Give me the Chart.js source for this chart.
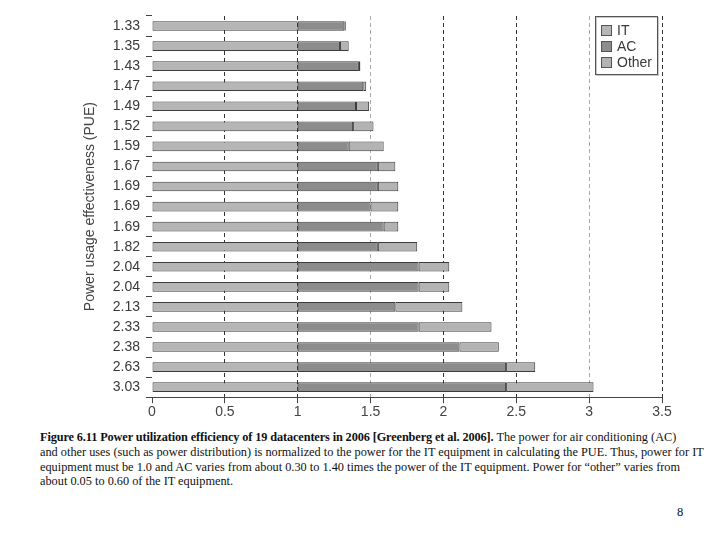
<!DOCTYPE html>
<html>
<head>
<meta charset="utf-8">
<script src="https://cdn.jsdelivr.net/npm/chart.js@4.4.0/dist/chart.umd.min.js"></script>
<style>
    body { margin: 0; background: #fff; width: 720px; height: 540px; position: relative; overflow: hidden; }
    #wrap { position: absolute; left: 0; top: 0; width: 720px; height: 422px; }
    #caption { position: absolute; left: 40px; top: 430px; font-family: "Liberation Serif", "Times New Roman", serif; font-size: 12.3px; line-height: 14.8px; color: #111; white-space: nowrap; }
    #caption b { font-weight: bold; letter-spacing: -0.12px; }
    #pagenum { position: absolute; left: 677px; top: 505px; font-family: "Liberation Serif", serif; font-size: 12.5px; color: #111; }
</style>
</head>
<body>
<div id="wrap"><canvas id="myChart" width="720" height="422"></canvas></div>
<div id="caption">
    <b>Figure 6.11 Power utilization efficiency of 19 datacenters in 2006 [Greenberg et al. 2006].</b> The power for air conditioning (AC)<br>
    and other uses (such as power distribution) is normalized to the power for the IT equipment in calculating the PUE. Thus, power for IT<br>
    equipment must be 1.0 and AC varies from about 0.30 to 1.40 times the power of the IT equipment. Power for “other” varies from<br>
    about 0.05 to 0.60 of the IT equipment.
</div>
<div id="pagenum">8</div>
<script>
var pueLabels = ["1.33", "1.35", "1.43", "1.47", "1.49", "1.52", "1.59", "1.67", "1.69", "1.69",
    "1.69", "1.82", "2.04", "2.04", "2.13", "2.33", "2.38", "2.63", "3.03"];
var itValues = [1, 1, 1, 1, 1, 1, 1, 1, 1, 1, 1, 1, 1, 1, 1, 1, 1, 1, 1];
var acValues = [0.32, 0.29, 0.42, 0.45, 0.40, 0.38, 0.35, 0.55, 0.55, 0.50,
    0.59, 0.55, 0.83, 0.83, 0.67, 0.83, 1.11, 1.43, 1.43];
var otherValues = [0.01, 0.06, 0.01, 0.02, 0.09, 0.14, 0.24, 0.12, 0.14, 0.19,
    0.10, 0.27, 0.21, 0.21, 0.46, 0.50, 0.27, 0.20, 0.60];
var seriesNames = ["IT", "AC", "Other"];
var seriesColors = ["#b6b6b6", "#8c8c8c", "#b3b3b3"];
var darkGridValues = [0.5, 1, 2, 2.5, 3.5];
var lightGridValues = [1.5, 3];

// legend drawn inside the plot, top right
var legendBox = {
    id: 'legendBox',
    afterDraw: function(chart) {
        var ctx = chart.ctx;
        var area = chart.chartArea;
        var bx = area.right - 67, by = area.top, bw = 62, bh = 58;
        ctx.save();
        ctx.fillStyle = '#fff';
        ctx.fillRect(bx, by, bw, bh);
        ctx.strokeStyle = '#c8c8c8';
        ctx.lineWidth = 1;
        ctx.strokeRect(bx + 1.5, by + 1.5, bw, bh);
        ctx.strokeStyle = '#555';
        ctx.strokeRect(bx + 0.5, by + 0.5, bw, bh);
        ctx.font = '14px "Liberation Sans", Arial, sans-serif';
        ctx.textBaseline = 'middle';
        chart.data.datasets.forEach(function(ds, i) {
            var cy = by + 14.5 + i * 16;
            ctx.fillStyle = ds.backgroundColor;
            ctx.fillRect(bx + 6.5, cy - 5, 10, 10);
            ctx.strokeStyle = '#555';
            ctx.strokeRect(bx + 6.5, cy - 5, 10, 10);
            ctx.fillStyle = '#3a3a3a';
            ctx.fillText(ds.label, bx + 22, cy + 1);
        });
        ctx.restore();
    }
};

function makeSet(i, values) {
    return {
        label: seriesNames[i],
        data: values,
        backgroundColor: seriesColors[i],
        borderColor: '#3c3c3c',
        borderWidth: 1,
        borderSkipped: false,
        barPercentage: 0.48,
        categoryPercentage: 1
    };
}

new Chart("myChart", {
    type: "bar",
    data: {
        labels: pueLabels,
        datasets: [makeSet(0, itValues), makeSet(1, acValues), makeSet(2, otherValues)]
    },
    plugins: [legendBox],
    options: {
        indexAxis: 'y',
        responsive: false,
        animation: false,
        devicePixelRatio: 1,
        layout: { padding: { left: 82, right: 58, top: 16, bottom: 0 } },
        plugins: {
            legend: { display: false },
            tooltip: { enabled: false }
        },
        scales: {
            x: {
                stacked: true,
                min: 0,
                max: 3.5,
                ticks: {
                    stepSize: 0.5,
                    padding: 1,
                    color: '#444',
                    font: { family: '"Liberation Sans", Arial, sans-serif', size: 14 },
                    callback: function(v) { return String(v); }
                },
                grid: {
                    lineWidth: 1,
                    tickLength: 6,
                    tickColor: '#444',
                    color: function(c) {
                        if (!c.tick) return 'rgba(0,0,0,0)';
                        if (darkGridValues.indexOf(c.tick.value) >= 0) return '#333';
                        if (lightGridValues.indexOf(c.tick.value) >= 0) return '#aaa';
                        return 'rgba(0,0,0,0)';
                    }
                },
                border: { display: true, color: '#444', width: 1, dash: [4, 3] }
            },
            y: {
                stacked: true,
                afterFit: function(scale) { scale.width = 70; },
                ticks: {
                    padding: 6,
                    color: '#3a3a3a',
                    font: { family: '"Liberation Sans", Arial, sans-serif', size: 14 }
                },
                grid: {
                    offset: true,
                    drawOnChartArea: false,
                    drawTicks: true,
                    tickLength: 6,
                    tickColor: '#444'
                },
                border: { display: false },
                title: {
                    display: true,
                    text: 'Power usage effectiveness (PUE)',
                    color: '#444',
                    padding: 0,
                    font: { family: '"Liberation Sans", Arial, sans-serif', size: 14 }
                }
            }
        }
    }
});
</script>
</body>
</html>
